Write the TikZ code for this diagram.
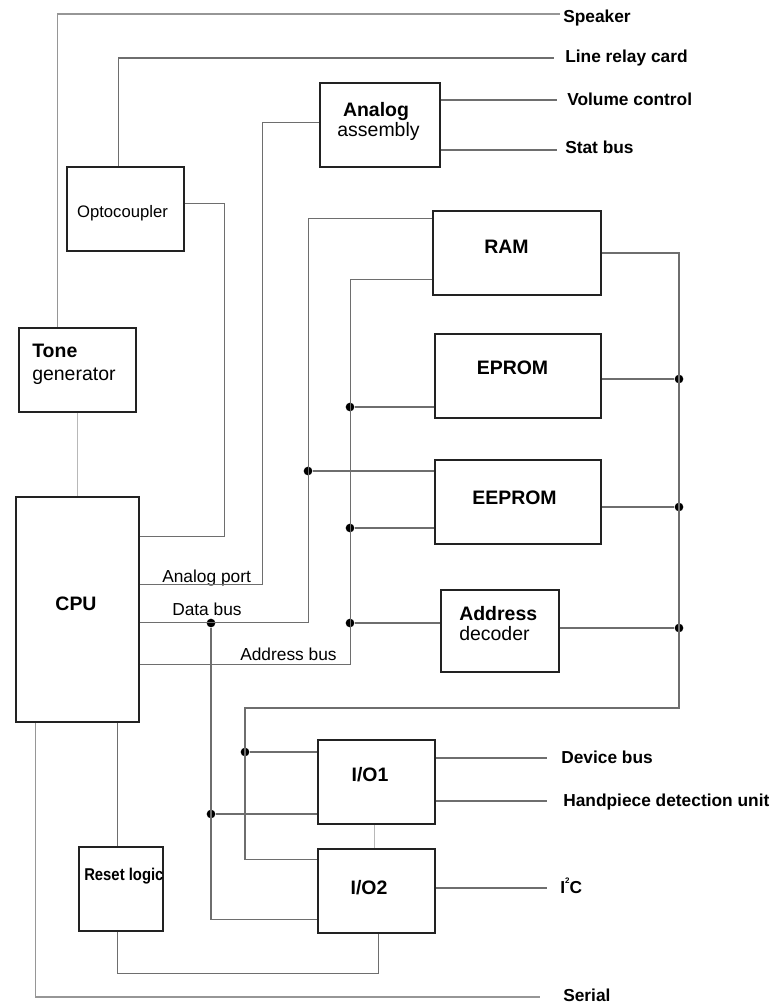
\documentclass[tikz,border=0pt]{standalone}
\usepackage{fontspec}
\setmainfont{Liberation Sans}
\newfontfamily\narrowsans[FakeStretch=0.87]{Liberation Sans}
\usetikzlibrary{calc}
\definecolor{wire}{HTML}{6E6E6E}
\definecolor{wirelight}{HTML}{B8B8B8}
\definecolor{wiremid}{HTML}{969696}
\definecolor{edge}{HTML}{222222}
\tikzset{
  box/.style={draw=edge, line width=1.2pt, inner sep=0pt},
  conn/.style={draw=wire, line width=0.8pt},
  connmid/.style={draw=wiremid, line width=0.8pt},
  connlight/.style={draw=wirelight, line width=0.8pt},
  jdot/.style={circle, fill=black, inner sep=0pt, minimum size=6.5pt},
  sig/.style={font=\fontsize{13pt}{15pt}\selectfont\bfseries, anchor=base west, inner sep=0pt},
  title/.style={font=\fontsize{14.6pt}{17pt}\selectfont\bfseries, anchor=base, inner sep=0pt},
  plain/.style={font=\fontsize{14.6pt}{17pt}\selectfont, anchor=base, inner sep=0pt},
  buslbl/.style={font=\fontsize{13pt}{15pt}\selectfont, anchor=base west, inner sep=0pt},
}
\begin{document}
\begin{tikzpicture}[x=0.75pt, y=-0.75pt]
\useasboundingbox (0,0) rectangle (779,1003);
\fill[white] (0,0) rectangle (779,1003);

% ---------- boxes ----------
\node[box, minimum width=87.75pt, minimum height=63pt] (opto) at (125.5,209) {};
\node[box, minimum width=90pt, minimum height=63pt] (analog) at (380,125) {};
\node[box, minimum width=87.75pt, minimum height=63pt] (tone) at (77.5,370) {};
\node[box, minimum width=92.25pt, minimum height=168.75pt] (cpu) at (77.5,609.5) {};
\node[box, minimum width=126pt, minimum height=63pt] (ram) at (517,253) {};
\node[box, minimum width=124.5pt, minimum height=63pt] (eprom) at (518,376) {};
\node[box, minimum width=124.5pt, minimum height=63pt] (eeprom) at (518,502) {};
\node[box, minimum width=88.5pt, minimum height=61.5pt] (addr) at (500,631) {};
\node[box, minimum width=87.75pt, minimum height=63pt] (io1) at (376.5,782) {};
\node[box, minimum width=87.75pt, minimum height=63pt] (io2) at (376.5,891) {};
\node[box, minimum width=63pt, minimum height=63pt] (reset) at (121,889) {};

% ---------- box texts ----------
\node[plain, font=\fontsize{12.5pt}{15pt}\selectfont] (optot) at (122.5,217) {Optocoupler};
\node[title] (analogt) at (376,116.5) {Analog};
\node[plain] (analogt2) at (378.5,136) {assembly};
\node[title, anchor=base west] (tonet) at (32,357) {Tone};
\node[plain, anchor=base west] (tonet2) at (32,380) {generator};
\node[title] (cput) at (76,610) {CPU};
\node[title] (ramt) at (506.5,253) {RAM};
\node[title] (epromt) at (512.5,374) {EPROM};
\node[title] (eepromt) at (514.5,504) {EEPROM};
\node[title, anchor=base west] (addrt) at (459,620.5) {Address};
\node[plain, anchor=base west] (addrt2) at (459,640) {decoder};
\node[title] (io1t) at (370,781) {I/O1};
\node[title] (io2t) at (369,894) {I/O2};
\node[anchor=base west, inner sep=0pt, font=\narrowsans\fontsize{12.8pt}{15pt}\selectfont\bfseries] (resett) at (84,880) {Reset logic};

% ---------- outside signal labels ----------
\node[sig] (spkt) at (563,22) {Speaker};
\node[sig] (lrct) at (565,62) {Line relay card};
\node[sig] (volt) at (567,105.5) {Volume control};
\node[sig] (statt) at (565,153) {Stat bus};
\node[sig] (devt) at (561,763) {Device bus};
\node[sig] (handt) at (563,806) {Handpiece detection unit};
\node[sig] (i2ct) at (560,893) {I\raisebox{0.55em}{\fontsize{6pt}{6pt}\selectfont 2}C};
\node[sig] (sert) at (563,1001) {Serial};

% ---------- bus labels ----------
\node[buslbl] (apl) at (162,582) {Analog port};
\node[buslbl] (dbl) at (172,615) {Data bus};
\node[buslbl] (abl) at (240,660) {Address bus};

% ---------- free ends ----------
\coordinate (spk) at (560,14);
\coordinate (lrc) at (554,58);
\coordinate (vol) at (557,100);
\coordinate (stat) at (557,150);
\coordinate (dev) at (547,758);
\coordinate (hand) at (547,801);
\coordinate (i2c) at (547,888);
\coordinate (ser) at (540,997);
\coordinate (rb) at (679,708);
\coordinate (lb) at (245,708);

% ---------- junction dots ----------
\node[jdot] (jd1) at (308,471) {};
\node[jdot] (jd2) at (211,623) {};
\node[jdot] (jd3) at (211,814) {};
\node[jdot] (ja1) at (350,407) {};
\node[jdot] (ja2) at (350,528) {};
\node[jdot] (ja3) at (350,623) {};
\node[jdot] (jr1) at (679,379) {};
\node[jdot] (jr2) at (679,507) {};
\node[jdot] (jr3) at (679,628) {};
\node[jdot] (jl1) at (245,752) {};

% ---------- connectors ----------
% Speaker and line relay card
\draw[connmid] ($(tone.north west)+(39,0)$) |- (spk);
\draw[conn] ($(opto.north west)+(52,0)$) |- (lrc);
% optocoupler to CPU
\draw[conn] ($(opto.north east)+(0,37)$) -- ++(40,0) |- ($(cpu.north east)+(0,40)$);
% analog port
\draw[conn] ($(analog.north west)+(0,40)$) -- ++(-57,0) |- ($(cpu.north east)+(0,88)$);
\draw[conn] (analog.east |- vol) -- (vol);
\draw[conn] (analog.east |- stat) -- (stat);
% data bus
\draw[conn] ($(ram.north west)+(0,8)$) -| ($(cpu.north east)+(169,126)$) -- ($(cpu.north east)+(0,126)$);
\draw[conn] (jd1) -- (eeprom.west |- jd1);
\draw[conn] (jd2) |- ($(io2.north west)+(0,71)$);
\draw[conn] (jd3) -- (io1.west |- jd3);
% address bus
\draw[conn] ($(ram.north west)+(0,69)$) -| ($(cpu.north east)+(211,168)$) -- ($(cpu.north east)+(0,168)$);
\draw[conn] (ja1) -- (eprom.west |- ja1);
\draw[conn] (ja2) -- (eeprom.west |- ja2);
\draw[conn] (ja3) -- (addr.west |- ja3);
% right side bus
\draw[conn] (ram.east) -| (rb) -- (lb) |- ($(io2.north west)+(0,11)$);
\draw[conn] (eprom.east |- jr1) -- (jr1);
\draw[conn] (eeprom.east |- jr2) -- (jr2);
\draw[conn] (addr.east |- jr3) -- (jr3);
\draw[conn] (jl1) -- (io1.west |- jl1);
% tone to CPU, CPU to reset, reset to I/O2
\draw[connlight] ($(tone.south west)+(59,0)$) -- ($(cpu.north west)+(62,0)$);
\draw[conn] ($(cpu.south west)+(102,0)$) -- ($(reset.north west)+(39,0)$);
\draw[conn] ($(reset.south west)+(39,0)$) -- ++(0,42) -| ($(io2.south west)+(61,0)$);
\draw[connlight] ($(io1.south west)+(57,0)$) -- ($(io2.north west)+(57,0)$);
% I/O outputs
\draw[conn] (io1.east |- dev) -- (dev);
\draw[conn] (io1.east |- hand) -- (hand);
\draw[conn] (io2.east |- i2c) -- (i2c);
% serial
\draw[connmid] ($(cpu.south west)+(20,0)$) |- (ser);
\end{tikzpicture}
\end{document}
